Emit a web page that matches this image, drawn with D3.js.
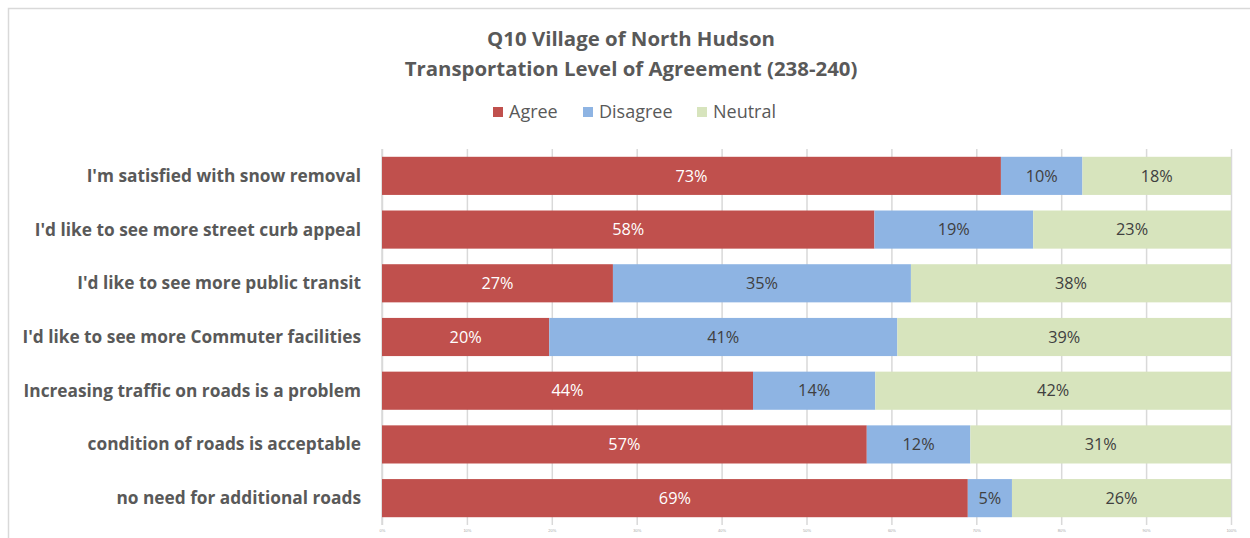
<!DOCTYPE html>
<html lang="en">
<head>
  <meta charset="UTF-8"/>
  <title>Q10 Village of North Hudson</title>
  <script src="https://d3js.org/d3.v7.min.js"></script>
  <style>
  body {
    margin: 0;
    background: #fff;
  }
  svg {
    display: block;
    font-family: "Open Sans", Lato, sans-serif;
  }
  .title {
    font-size: 20.4px;
    font-weight: bold;
    fill: #595959;
  }
  .legend text {
    font-size: 18px;
    fill: #595959;
  }
  .cat {
    font-size: 17.3px;
    font-weight: bold;
    fill: #595959;
  }
  .grid line {
    stroke: #d9d9d9;
    stroke-width: 1.5px;
  }
  .xaxis text {
    font-size: 4px;
    fill: #a6a6a6;
  }
  .val {
    font-size: 16.3px;
  }
  </style>
</head>
<body>
<script>
  // statements, top to bottom
  var categories = [
    "I'm satisfied with snow removal",
    "I'd like to see more street curb appeal",
    "I'd like to see more public transit",
    "I'd like to see more Commuter facilities",
    "Increasing traffic on roads is a problem",
    "condition of roads is acceptable",
    "no need for additional roads"
  ];
  var series = ["Agree", "Disagree", "Neutral"];
  var agree    = [72.9, 58.0, 27.2, 19.7, 43.7, 57.1, 69.0];
  var disagree = [ 9.6, 18.7, 35.1, 41.0, 14.4, 12.2,  5.2];
  var neutral  = [17.5, 23.3, 37.7, 39.3, 41.9, 30.7, 25.8];
  var ticks = [0, 10, 20, 30, 40, 50, 60, 70, 80, 90, 100];

  var colors = {Agree: "#c0504d", Disagree: "#8eb4e3", Neutral: "#d7e4bd"};
  var textColors = {Agree: "#ffffff", Disagree: "#404040", Neutral: "#404040"};

  var W = 1250, H = 538;
  var margin = {top: 149, right: 19, bottom: 13, left: 382},
      width = W - margin.left - margin.right,
      height = H - margin.top - margin.bottom;

  var rows = categories.map(function(c, i) {
    return {cat: c, Agree: agree[i], Disagree: disagree[i], Neutral: neutral[i]};
  });
  var stacked = d3.stack().keys(series)(rows);

  var x = d3.scaleLinear().domain([0, 100]).range([0, width]);
  var y = d3.scaleBand().domain(categories).range([0, height]).paddingInner(0.29).paddingOuter(0.145);

  var svg = d3.select("body").append("svg")
    .attr("width", W)
    .attr("height", H);

  // chart frame
  svg.append("rect")
    .attr("x", 8.5).attr("y", 8.5)
    .attr("width", W + 20).attr("height", H + 20)
    .attr("fill", "none")
    .attr("stroke", "#d9d9d9")
    .attr("stroke-width", 1.5);

  var title = svg.append("text")
    .attr("class", "title")
    .attr("text-anchor", "middle");
  title.append("tspan").attr("x", 631).attr("y", 46).text("Q10 Village of North Hudson");
  title.append("tspan").attr("x", 631).attr("y", 76).text("Transportation Level of Agreement (238-240)");

  // legend
  var legendX = [493, 583, 697];
  var legend = svg.append("g").attr("class", "legend")
    .selectAll("g")
    .data(series)
    .enter().append("g")
    .attr("transform", function(d, i) { return "translate(" + legendX[i] + ",112)"; });
  legend.append("rect")
    .attr("x", 0).attr("y", -5)
    .attr("width", 10).attr("height", 10)
    .attr("fill", function(d) { return colors[d]; });
  legend.append("text")
    .attr("x", 16).attr("dy", "0.35em")
    .text(function(d) { return d; });

  var g = svg.append("g")
    .attr("transform", "translate(" + margin.left + "," + margin.top + ")");

  // gridlines + axis ticks
  var xAxis = d3.axisBottom(x)
    .tickValues(ticks)
    .tickSize(height)
    .tickFormat(function(d) { return d + "%"; });
  g.append("g")
    .attr("class", "grid xaxis")
    .call(xAxis)
    .call(function(a) {
      a.select(".domain").remove();
      a.selectAll("text").attr("dy", "0.4em").attr("y", height + 5);
    });

  g.append("line")
    .attr("x1", 0).attr("x2", 0)
    .attr("y1", 0).attr("y2", height)
    .attr("stroke", "#d9d9d9").attr("stroke-width", 1.5);

  var layers = g.selectAll(".layer")
    .data(stacked)
    .enter().append("g")
    .attr("class", "layer");

  layers.selectAll("rect")
    .data(function(d) { return d.map(function(v) { v.key = d.key; return v; }); })
    .enter().append("rect")
    .attr("x", function(d) { return x(d[0]); })
    .attr("y", function(d) { return y(d.data.cat); })
    .attr("width", function(d) { return x(d[1]) - x(d[0]); })
    .attr("height", y.bandwidth())
    .attr("fill", function(d) { return colors[d.key]; });

  layers.selectAll("text")
    .data(function(d) { return d.map(function(v) { v.key = d.key; return v; }); })
    .enter().append("text")
    .attr("class", "val")
    .attr("text-anchor", "middle")
    .attr("x", function(d) { return (x(d[0]) + x(d[1])) / 2; })
    .attr("y", function(d) { return y(d.data.cat) + y.bandwidth() / 2; })
    .attr("dy", "0.35em")
    .attr("fill", function(d) { return textColors[d.key]; })
    .text(function(d) { return Math.round(d[1] - d[0]) + "%"; });

  // category labels
  g.selectAll(".cat")
    .data(categories)
    .enter().append("text")
    .attr("class", "cat")
    .attr("text-anchor", "end")
    .attr("x", -21)
    .attr("y", function(d) { return y(d) + y.bandwidth() / 2; })
    .attr("dy", "0.35em")
    .text(function(d) { return d; });
</script>
</body>
</html>
